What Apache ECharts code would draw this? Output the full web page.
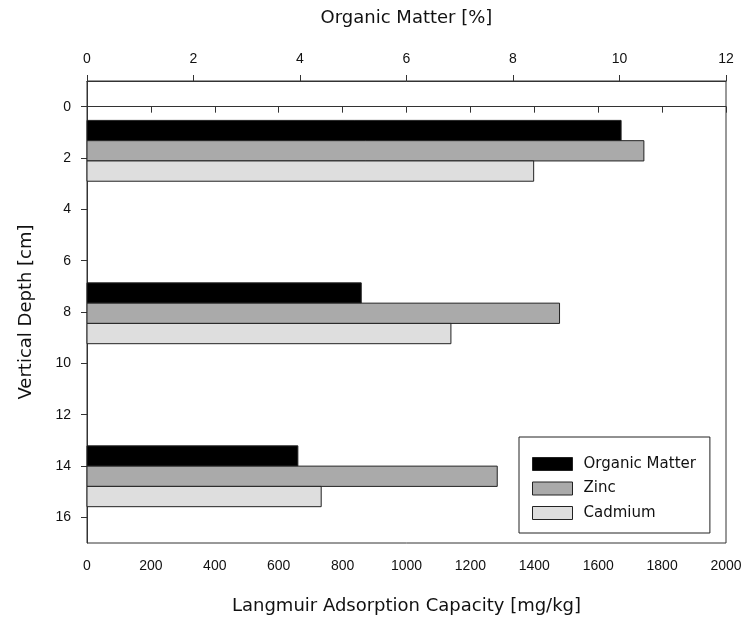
<!DOCTYPE html>
<html>
<head>
<meta charset="utf-8">
<script src="https://cdn.jsdelivr.net/npm/echarts@6/dist/echarts.min.js"></script>
<style>
  html, body { margin: 0; padding: 0; background: #fff; }
  #chart { width: 743px; height: 619px; }
</style>
</head>
<body>
<div id="chart"></div>
<script>
// Sampling depths (cm) of the three core sections; each group is centred on the zinc bar
const depths = [1.72, 8.05, 14.4];
// Organic matter content (%), top axis
const organicMatter = [10.03, 5.15, 3.96];
// Langmuir adsorption capacities (mg/kg), bottom axis
const zinc = [1743, 1479, 1284];
const cadmium = [1398, 1139, 733];

const depthTicks = [0, 2, 4, 6, 8, 10, 12, 14, 16];
const barThickness = 0.79; // in cm of depth

const LABEL_FONT = 'Liberation Sans';
const NAME_FONT = 'DejaVu Sans';
const INK = '#111';
const AXIS = '#333';

// Horizontal bar drawn as a rectangle spanning [0, value] at a depth slot
function barRenderer(slot, fill) {
  return function (params, api) {
    const v = api.value(0);
    const d = api.value(1) + slot * barThickness;
    const p0 = api.coord([0, d - barThickness / 2]);
    const p1 = api.coord([v, d + barThickness / 2]);
    return {
      type: 'rect',
      shape: { x: p0[0], y: p0[1], width: p1[0] - p0[0], height: p1[1] - p0[1] },
      style: { fill: fill, stroke: '#222', lineWidth: 1 }
    };
  };
}

function pairs(values) {
  return values.map((v, i) => [v, depths[i]]);
}

const plain = v => String(v);

const chart = echarts.init(document.getElementById('chart'), null, { renderer: 'canvas' });

chart.setOption({
  animation: false,
  backgroundColor: '#fff',
  grid: {
    left: 87, right: 17, top: 81, bottom: 76,
    outerBoundsMode: 'none',
    show: true, borderColor: AXIS, borderWidth: 1, backgroundColor: 'transparent'
  },
  xAxis: [
    {
      type: 'value', position: 'bottom', min: 0, max: 2000, interval: 200,
      name: 'Langmuir Adsorption Capacity [mg/kg]', nameLocation: 'middle', nameGap: 54,
      nameTextStyle: { fontFamily: NAME_FONT, fontSize: 18, color: INK },
      axisLine: { show: true, lineStyle: { color: AXIS, width: 1 } },
      axisTick: { show: true, inside: false, length: 6, lineStyle: { color: AXIS } },
      axisLabel: { fontFamily: LABEL_FONT, fontSize: 14, color: INK, margin: 16, formatter: plain },
      splitLine: { show: false }
    },
    {
      type: 'value', position: 'top', min: 0, max: 12, interval: 2,
      name: 'Organic Matter [%]', nameLocation: 'middle', nameGap: 54,
      nameTextStyle: { fontFamily: NAME_FONT, fontSize: 18, color: INK },
      axisLine: { show: true, lineStyle: { color: AXIS, width: 1 } },
      axisTick: { show: true, inside: false, length: 6, lineStyle: { color: AXIS } },
      axisLabel: { fontFamily: LABEL_FONT, fontSize: 14, color: INK, margin: 15, formatter: plain },
      splitLine: { show: false }
    }
  ],
  yAxis: {
    type: 'value', inverse: true, min: -1, max: 17, interval: 1,
    name: 'Vertical Depth [cm]', nameLocation: 'middle', nameGap: 52,
    nameTextStyle: { fontFamily: NAME_FONT, fontSize: 18, color: INK },
    axisLine: { show: true, lineStyle: { color: AXIS, width: 1 } },
    axisTick: { show: true, inside: false, length: 6, lineStyle: { color: AXIS }, customValues: depthTicks },
    axisLabel: { fontFamily: LABEL_FONT, fontSize: 14, color: INK, margin: 16, customValues: depthTicks, formatter: plain },
    splitLine: { show: false }
  },
  legend: {
    orient: 'vertical',
    left: 519, top: 437,
    padding: [19.5, 14, 12.5, 13],
    itemWidth: 40, itemHeight: 13, itemGap: 9.5,
    borderColor: '#222', borderWidth: 1, backgroundColor: '#fff',
    textStyle: { fontFamily: NAME_FONT, fontSize: 15, color: INK, lineHeight: 13, padding: [0, 0, 0, 6] },
    data: [
      { name: 'Organic Matter', icon: 'rect', itemStyle: { color: '#000', borderColor: '#222', borderWidth: 1 } },
      { name: 'Zinc', icon: 'rect', itemStyle: { color: '#aaaaaa', borderColor: '#222', borderWidth: 1 } },
      { name: 'Cadmium', icon: 'rect', itemStyle: { color: '#dedede', borderColor: '#222', borderWidth: 1 } }
    ]
  },
  series: [
    {
      name: 'Organic Matter', type: 'custom', xAxisIndex: 1, yAxisIndex: 0,
      itemStyle: { color: '#000' },
      renderItem: barRenderer(-1, '#000'),
      encode: { x: 0, y: 1 },
      data: pairs(organicMatter)
    },
    {
      name: 'Zinc', type: 'custom', xAxisIndex: 0, yAxisIndex: 0,
      itemStyle: { color: '#aaaaaa' },
      renderItem: barRenderer(0, '#aaaaaa'),
      encode: { x: 0, y: 1 },
      data: pairs(zinc)
    },
    {
      name: 'Cadmium', type: 'custom', xAxisIndex: 0, yAxisIndex: 0,
      itemStyle: { color: '#dedede' },
      renderItem: barRenderer(1, '#dedede'),
      encode: { x: 0, y: 1 },
      data: pairs(cadmium)
    }
  ]
});
</script>
</body>
</html>
